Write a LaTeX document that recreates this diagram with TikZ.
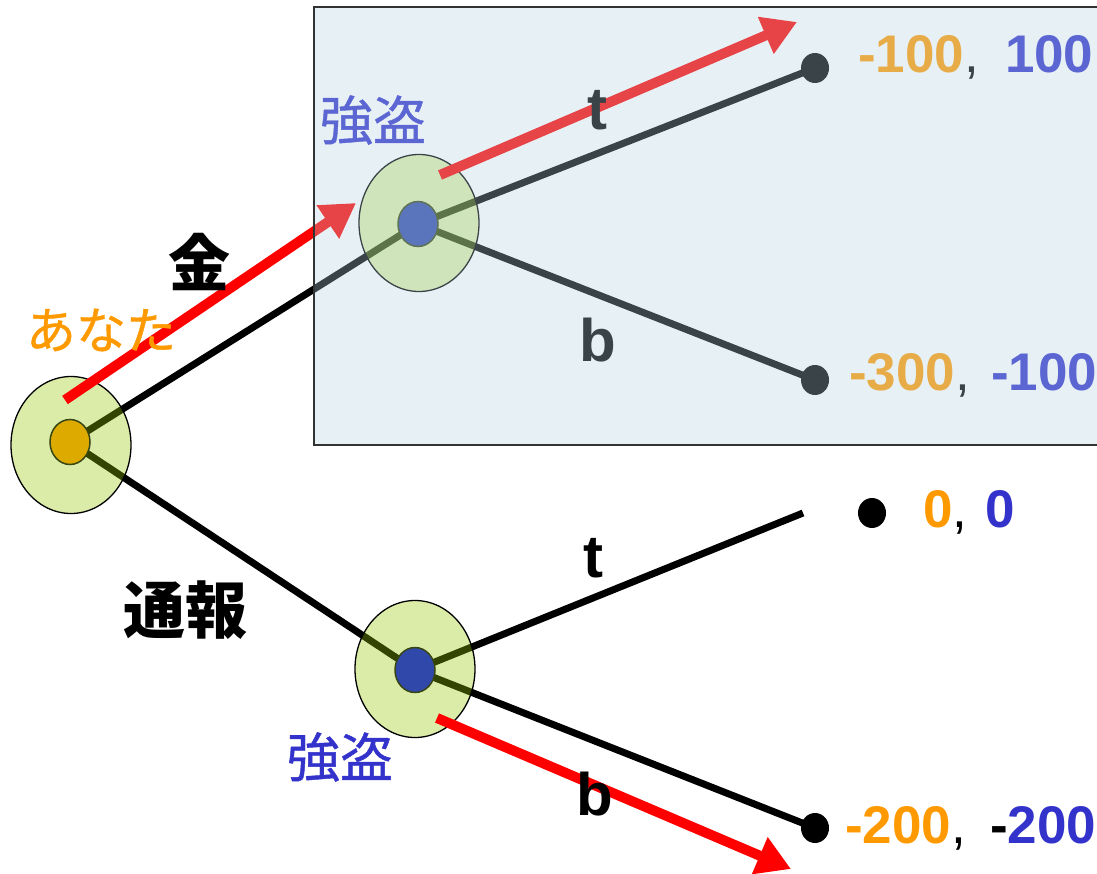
\documentclass[tikz,border=0pt]{standalone}
\usepackage{fontspec}
\setmainfont{Liberation Sans}
\newfontfamily\jp{Noto Sans CJK JP}
\newfontfamily\jpm{Noto Sans CJK JP}[FakeBold=0.8]
\usetikzlibrary{arrows.meta,shapes.geometric}
\definecolor{myorange}{HTML}{FF9900}
\definecolor{myblue}{HTML}{3333CC}
\definecolor{outerfill}{RGB}{150,200,0}
\definecolor{gold}{HTML}{DDAA00}
\definecolor{innerblue}{HTML}{3048AA}
\definecolor{boxfill}{RGB}{181,212,225}
\definecolor{innerline}{RGB}{55,70,20}
\newcommand{\cm}{{\mdseries,}}
\tikzset{
  branch/.style={line width=7pt, black},
  outer/.style={ellipse, draw=black, line width=1.3pt, fill=outerfill, fill opacity=0.34, draw opacity=1, minimum width=120pt, minimum height=137pt, inner sep=0pt},
  innerbase/.style={ellipse, draw=innerline, line width=1.5pt, minimum width=40pt, minimum height=45pt, inner sep=0pt},
  innerA/.style={innerbase, fill=gold},
  innerB/.style={innerbase, fill=innerblue},
  leaf/.style={ellipse, fill=black, minimum width=28pt, minimum height=30pt, inner sep=0pt},
  redarrow/.style={line width=10pt, red, -{Triangle[length=34pt,width=38pt]}},
  lbl/.style={font=\bfseries\fontsize{60}{60}\selectfont, inner sep=0pt, anchor=base},
  pay/.style={font=\bfseries\fontsize{53}{53}\selectfont, inner sep=0pt, anchor=base west},
  jplbl/.style={font=\jpm\fontsize{50}{50}\selectfont, inner sep=0pt},
  jpbold/.style={font=\jp\bfseries\fontsize{62}{62}\selectfont, inner sep=0pt},
}
\begin{document}
\begin{tikzpicture}[x=1pt,y=-1pt]
\useasboundingbox (0,0) rectangle (1097,874);
% centres
\coordinate (rc) at (70,442);
\coordinate (uc) at (418,224);
\coordinate (dc) at (415,670);
\coordinate (tend) at (803,513);
% leaves
\node[leaf] (l1) at (815,68) {};
\node[leaf] (l2) at (815,380) {};
\node[leaf] (l3) at (872,513) {};
\node[leaf] (l4) at (815,828) {};
% branches
\draw[branch] (rc) -- (uc);
\draw[branch] (rc) -- (dc);
\draw[branch] (uc) -- (l1.center);
\draw[branch] (uc) -- (l2.center);
\draw[branch] (dc) -- (tend);
\draw[branch] (dc) -- (l4.center);
% outer circles
\node[outer] (root) at (71,445) {};
\node[outer] (up) at (419,223) {};
\node[outer] (down) at (415,669) {};
% inner circles
\node[innerA] (rootin) at (rc) {};
\node[innerB] (upin) at (uc) {};
\node[innerB] (downin) at (dc) {};
% red arrows
\coordinate (a1s) at (65,400);
\coordinate (a1e) at (356,203);
\coordinate (a2s) at (440,175);
\coordinate (a2e) at (797,22);
\coordinate (a3s) at (437,718);
\coordinate (a3e) at (791,869);
\draw[redarrow] (a1s) -- (a1e);
\draw[redarrow] (a2s) -- (a2e);
\draw[redarrow] (a3s) -- (a3e);
% labels
\node[jplbl, text=myorange] (anata) at (101,330) {あなた};
\node[jpbold] (kin) at (199,262) {金};
\node[jpbold] (tsuho) at (185,610) {通報};
\node[jplbl, text=myblue, font=\jpm\fontsize{53}{53}\selectfont] (g1) at (373,120) {強盗};
\node[jplbl, text=myblue, font=\jpm\fontsize{53}{53}\selectfont] (g2) at (340,757) {強盗};
\node[lbl] (t1) at (597,130) {t};
\node[lbl] (b1) at (598,362) {b};
\node[lbl] (t2) at (593,577) {t};
\node[lbl] (b2) at (595,815) {b};
% payoffs
\node[pay] (p1) at (858,73) {\textcolor{myorange}{-100}\cm\hspace{26pt}\textcolor{myblue}{100}};
\node[pay] (p2) at (849,390) {\textcolor{myorange}{-300}\cm\hspace{21pt}\textcolor{myblue}{-100}};
\node[pay] (p3) at (923,527) {\textcolor{myorange}{0}\cm\hspace{18pt}\textcolor{myblue}{0}};
\node[pay] (p4) at (845,843) {\textcolor{myorange}{-200}\cm\hspace{24pt}-\textcolor{myblue}{200}};
% overlay box
\path[fill=boxfill, fill opacity=0.32] (314,7) rectangle (1100,445);
\draw[line width=2pt, black!80] (1100,7) -- (314,7) -- (314,445) -- (1100,445);
\end{tikzpicture}
\end{document}
